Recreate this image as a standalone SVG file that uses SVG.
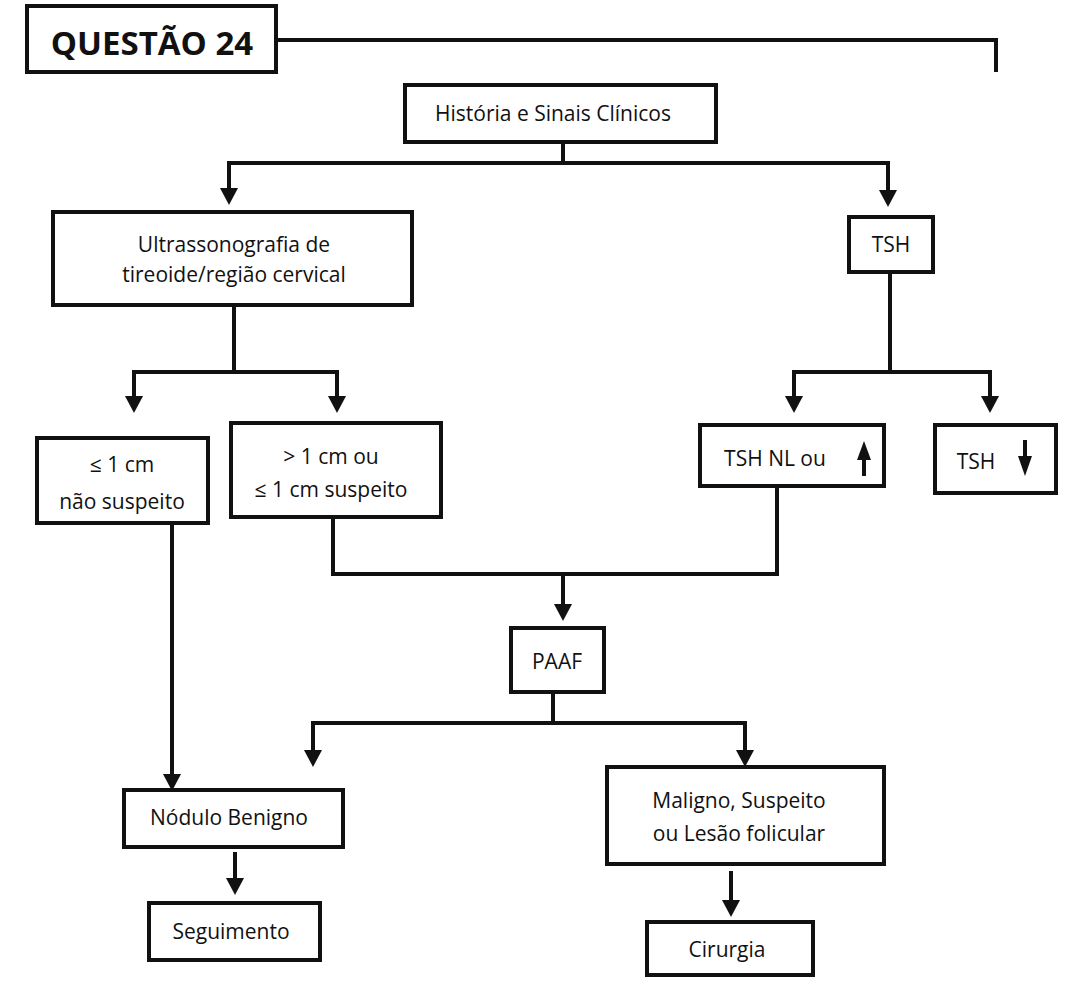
<svg xmlns="http://www.w3.org/2000/svg" width="1072" height="992" viewBox="0 0 1072 992">
<defs>
<marker id="ah" markerWidth="6" markerHeight="6" refX="3" refY="5.5" orient="auto-start-reverse" markerUnits="userSpaceOnUse" viewBox="0 0 6 6" style="overflow:visible"><path d="M-8,-8 L8,-8 L0,10 Z" transform="translate(3,0)" fill="#111"/></marker>
</defs>
<style>
.b{fill:#fff;stroke:#111;stroke-width:4}
.t{font-family:"Open Sans","Liberation Sans",sans-serif;font-size:21px;fill:#111;text-anchor:middle}
.c{fill:none;stroke:#111;stroke-width:4}
.a{fill:#111}
</style>
<rect width="1072" height="992" fill="#fff"/>
<g id="connectors">
<path class="c" d="M276,40 H996 V72"/>
<path class="c" d="M563,142 V163 M229,163 H888 M229,161 V190 M888,161 V193"/>
<polygon class="a" points="220,188 238,188 229,205"/><polygon class="a" points="879,190 897,190 888,207"/>
<path class="c" d="M234,305 V372 M132,372 H339 M134,370 V398 M337,370 V398"/>
<polygon class="a" points="125,396 143,396 134,413"/><polygon class="a" points="328,396 346,396 337,413"/>
<path class="c" d="M890,272 V372 M792,372 H992 M794,370 V398 M990,370 V398"/>
<polygon class="a" points="785,396 803,396 794,413"/><polygon class="a" points="981,396 999,396 990,413"/>
<path class="c" d="M333,517 V574 H777 V486 M563,574 V606"/>
<polygon class="a" points="554,604 572,604 563,621"/>
<path class="c" d="M553,692 V723 M313,723 H747 M313,721 V752 M745,721 V752"/>
<polygon class="a" points="304,750 322,750 313,767"/><polygon class="a" points="736,750 754,750 745,767"/>
<path class="c" d="M172,523 V776"/>
<polygon class="a" points="163,774 181,774 172,791"/>
<path class="c" d="M235,852 V880"/><polygon class="a" points="226,878 244,878 235,895"/>
<path class="c" d="M731,871 V902"/><polygon class="a" points="722,900 740,900 731,917"/>
</g>
<g id="title"><rect class="b" x="27" y="6" width="249" height="66"/><line x1="27" y1="72" x2="276" y2="72" stroke="#111" stroke-width="3"/><text x="152" y="55" class="t" style="font-size:33px;font-weight:bold">QUESTÃO 24</text></g>
<g id="historia"><rect class="b" x="405" y="85" width="311" height="57"/><text class="t" x="553" y="121">História e Sinais Clínicos</text></g>
<g id="usg"><rect class="b" x="53" y="212" width="359" height="93"/><text class="t" x="234" y="252">Ultrassonografia de</text><text class="t" x="234" y="282">tireoide/região cervical</text></g>
<g id="tsh"><rect class="b" x="849" y="217" width="84" height="55"/><text class="t" x="891" y="252">TSH</text></g>
<g id="menor"><rect class="b" x="37" y="438" width="171" height="85"/><text class="t" x="122" y="472">≤ 1 cm</text><text class="t" x="122" y="509">não suspeito</text></g>
<g id="maior"><rect class="b" x="231" y="423" width="210" height="94"/><text class="t" x="331" y="464">&gt;  1 cm ou</text><text class="t" x="331" y="497">≤ 1 cm suspeito</text></g>
<g id="tshnl"><rect class="b" x="700" y="425" width="184" height="61"/><text class="t" x="775" y="466">TSH NL ou</text><path d="M864,476 V458" stroke="#111" stroke-width="4"/><polygon class="a" points="857,460 871,460 864,441"/></g>
<g id="tshdown"><rect class="b" x="935" y="425" width="121" height="68"/><text class="t" x="976" y="469">TSH</text><path d="M1025,440 V458" stroke="#111" stroke-width="4"/><polygon class="a" points="1018,456 1032,456 1025,476"/></g>
<g id="paaf"><rect class="b" x="511" y="628" width="93" height="64"/><text class="t" x="557" y="669">PAAF</text></g>
<g id="benigno"><rect class="b" x="124" y="790" width="219" height="57"/><text class="t" x="229" y="825">Nódulo Benigno</text></g>
<g id="maligno"><rect class="b" x="607" y="767" width="277" height="97"/><text class="t" x="739" y="808">Maligno, Suspeito</text><text class="t" x="739" y="841">ou Lesão folicular</text></g>
<g id="seguimento"><rect class="b" x="149" y="903" width="171" height="57"/><text class="t" x="231" y="939">Seguimento</text></g>
<g id="cirurgia"><rect class="b" x="647" y="922" width="166" height="53"/><text class="t" x="727" y="957">Cirurgia</text></g>
</svg>
